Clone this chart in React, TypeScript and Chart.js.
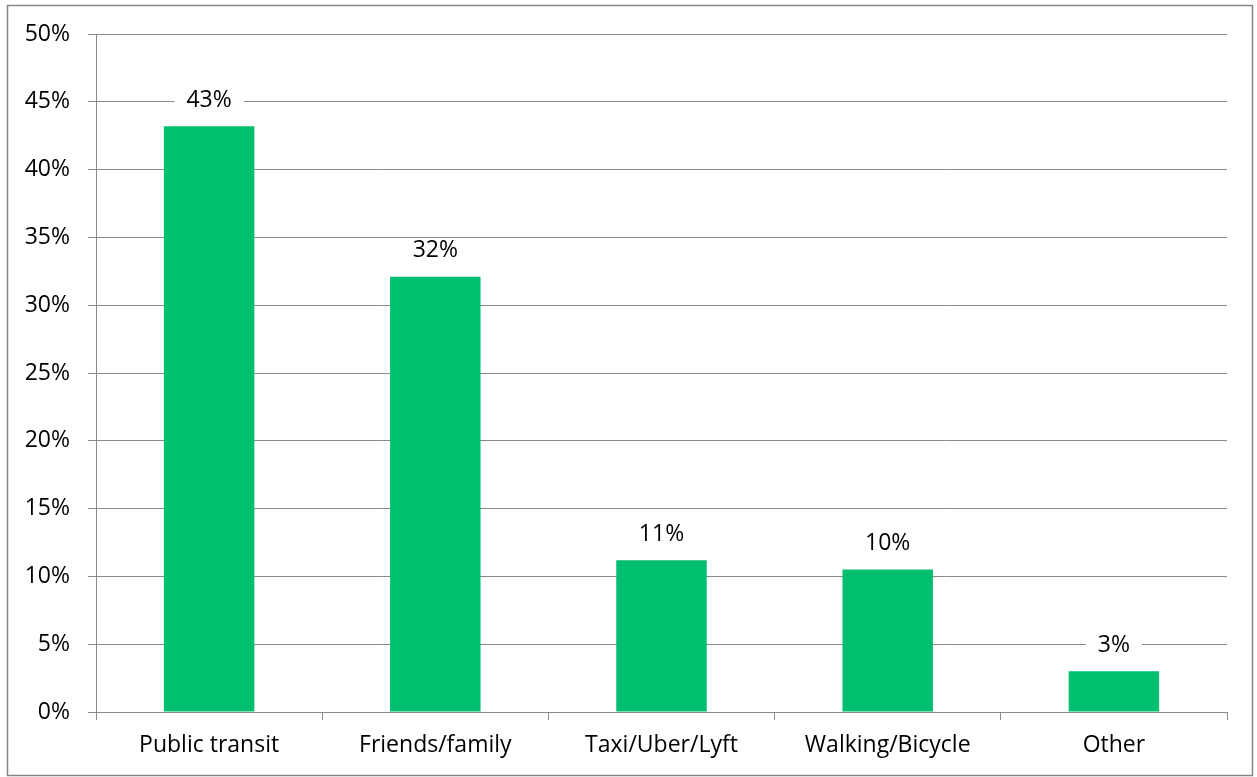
import React, { useEffect, useRef } from "react";
import { Chart, registerables } from "chart.js";

Chart.register(...registerables);

const categories = ["Public transit", "Friends/family", "Taxi/Uber/Lyft", "Walking/Bicycle", "Other"];
const values = [43.2, 32.1, 11.2, 10.5, 3.0];
const valueLabels = ["43%", "32%", "11%", "10%", "3%"];
const yTicks = [0, 5, 10, 15, 20, 25, 30, 35, 40, 45, 50];

const FONT = "'Open Sans', sans-serif";
const GRID = "#898989";
const FS = 23;

const labelPlugin = {
  id: "valueLabels",
  afterDatasetsDraw(chart: any) {
    const ctx = chart.ctx;
    const meta = chart.getDatasetMeta(0);
    ctx.save();
    ctx.font = `${FS}px ${FONT}`;
    ctx.textAlign = "center";
    ctx.textBaseline = "middle";
    meta.data.forEach((bar: any, i: number) => {
      const text = valueLabels[i];
      const y = bar.y - 26;
      const w = ctx.measureText(text).width + 24;
      ctx.fillStyle = "#ffffff";
      ctx.fillRect(bar.x - w / 2, y - 11, w, 22);
      ctx.fillStyle = "#000000";
      ctx.fillText(text, bar.x, y);
    });
    ctx.restore();
  },
};

const borderPlugin = {
  id: "outerBorder",
  afterDraw(chart: any) {
    const ctx = chart.ctx;
    ctx.save();
    ctx.strokeStyle = "#868686";
    ctx.lineWidth = 1.5;
    ctx.strokeRect(7.5, 5.5, 1245, 770);
    ctx.restore();
  },
};

export default function App() {
  const ref = useRef<HTMLCanvasElement>(null);
  useEffect(() => {
    const chart = new Chart(ref.current!, {
      type: "bar",
      data: {
        labels: categories,
        datasets: [
          {
            data: values,
            backgroundColor: "#00BF6F",
            categoryPercentage: 1,
            barPercentage: 0.4,
          },
        ],
      },
      options: {
        animation: false,
        responsive: false,
        devicePixelRatio: 1,
        layout: { padding: { top: 34, right: 30, left: 0, bottom: 0 } },
        plugins: { legend: { display: false }, tooltip: { enabled: false } },
        scales: {
          x: {
            grid: {
              offset: true,
              drawOnChartArea: false,
              drawTicks: true,
              tickLength: 8,
              color: GRID,
            },
            border: { display: true, color: GRID },
            ticks: { font: { family: FONT, size: FS }, color: "#000", padding: 12 },
            afterFit(scale: any) {
              scale.height = 65;
            },
          },
          y: {
            min: 0,
            max: 50,
            afterBuildTicks(scale: any) {
              scale.ticks = yTicks.map((v) => ({ value: v }));
            },
            grid: { color: GRID, tickLength: 8, drawTicks: true },
            border: { display: true, color: GRID },
            ticks: {
              font: { family: FONT, size: FS },
              color: "#000",
              padding: 18,
              callback: (v: any) => `${v}%`,
            },
            afterFit(scale: any) {
              scale.width = 96;
            },
          },
        },
      },
      plugins: [labelPlugin, borderPlugin],
    });
    return () => chart.destroy();
  }, []);
  return (
    <div style={{ position: "fixed", left: 0, top: 0, width: 1257, height: 777, background: "#fff" }}>
      <canvas ref={ref} width={1257} height={777} style={{ width: 1257, height: 777, display: "block" }} />
    </div>
  );
}
